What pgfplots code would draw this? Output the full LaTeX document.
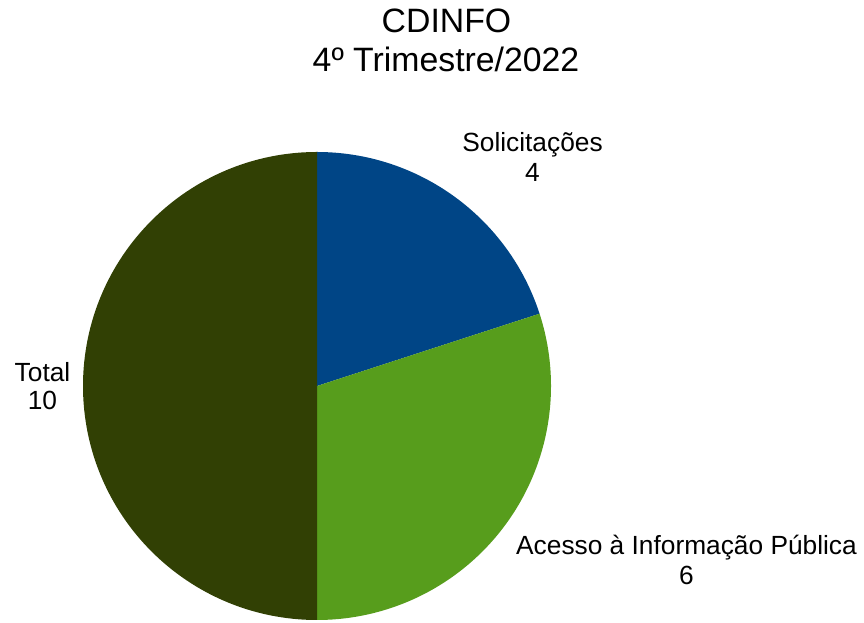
\documentclass[border=0pt]{standalone}
\usepackage{fontspec}
\setmainfont{Liberation Sans}
\usepackage{pgfplots}
\pgfplotsset{compat=1.18}

\definecolor{cSol}{HTML}{004586}
\definecolor{cAce}{HTML}{579D1C}
\definecolor{cTot}{HTML}{314004}

\begin{document}
\begin{tikzpicture}
% values of the three slices
\def\vSol{4}
\def\vAce{6}
\def\vTot{10}
\pgfmathsetmacro\sumAll{\vSol+\vAce+\vTot}
\pgfmathsetmacro\aSol{90-360*\vSol/\sumAll}
\pgfmathsetmacro\aAce{\aSol-360*\vAce/\sumAll}
\pgfmathsetmacro\aTot{\aAce-360*\vTot/\sumAll}
\begin{axis}[
    width=864pt, height=623pt,
    scale only axis,
    xmin=0, xmax=864,
    ymin=0, ymax=623,
    hide axis,
    clip=false,
]
\path (axis cs:0,0) rectangle (axis cs:864,623);
% pie slices, centre (317,237), radius 234
\fill[cSol] (axis cs:317,237) -- ++(90:234pt) arc[start angle=90, end angle=\aSol, radius=234pt] -- cycle;
\fill[cAce] (axis cs:317,237) -- ++(\aSol:234pt) arc[start angle=\aSol, end angle=\aAce, radius=234pt] -- cycle;
\fill[cTot] (axis cs:317,237) -- ++(\aAce:234pt) arc[start angle=\aAce, end angle=\aTot, radius=234pt] -- cycle;
% title
\node[anchor=base, font=\fontsize{33.8}{40}\selectfont] at (axis cs:446.5,590) {CDINFO};
\node[anchor=base, font=\fontsize{33.8}{40}\selectfont] at (axis cs:446,551) {4º Trimestre/2022};
% labels
\node[anchor=base, font=\fontsize{26.3}{30}\selectfont] at (axis cs:532.5,471) {Solicitações};
\node[anchor=base, font=\fontsize{26.3}{30}\selectfont] at (axis cs:532.5,441) {\vSol};
\node[anchor=base, font=\fontsize{26.3}{30}\selectfont] at (axis cs:42.5,241) {Total};
\node[anchor=base, font=\fontsize{26.3}{30}\selectfont] at (axis cs:42.5,213) {\vTot};
\node[anchor=base, font=\fontsize{26.3}{30}\selectfont] at (axis cs:686.5,68) {Acesso à Informação Pública};
\node[anchor=base, font=\fontsize{26.3}{30}\selectfont] at (axis cs:686.5,38) {\vAce};
\end{axis}
\end{tikzpicture}
\end{document}
